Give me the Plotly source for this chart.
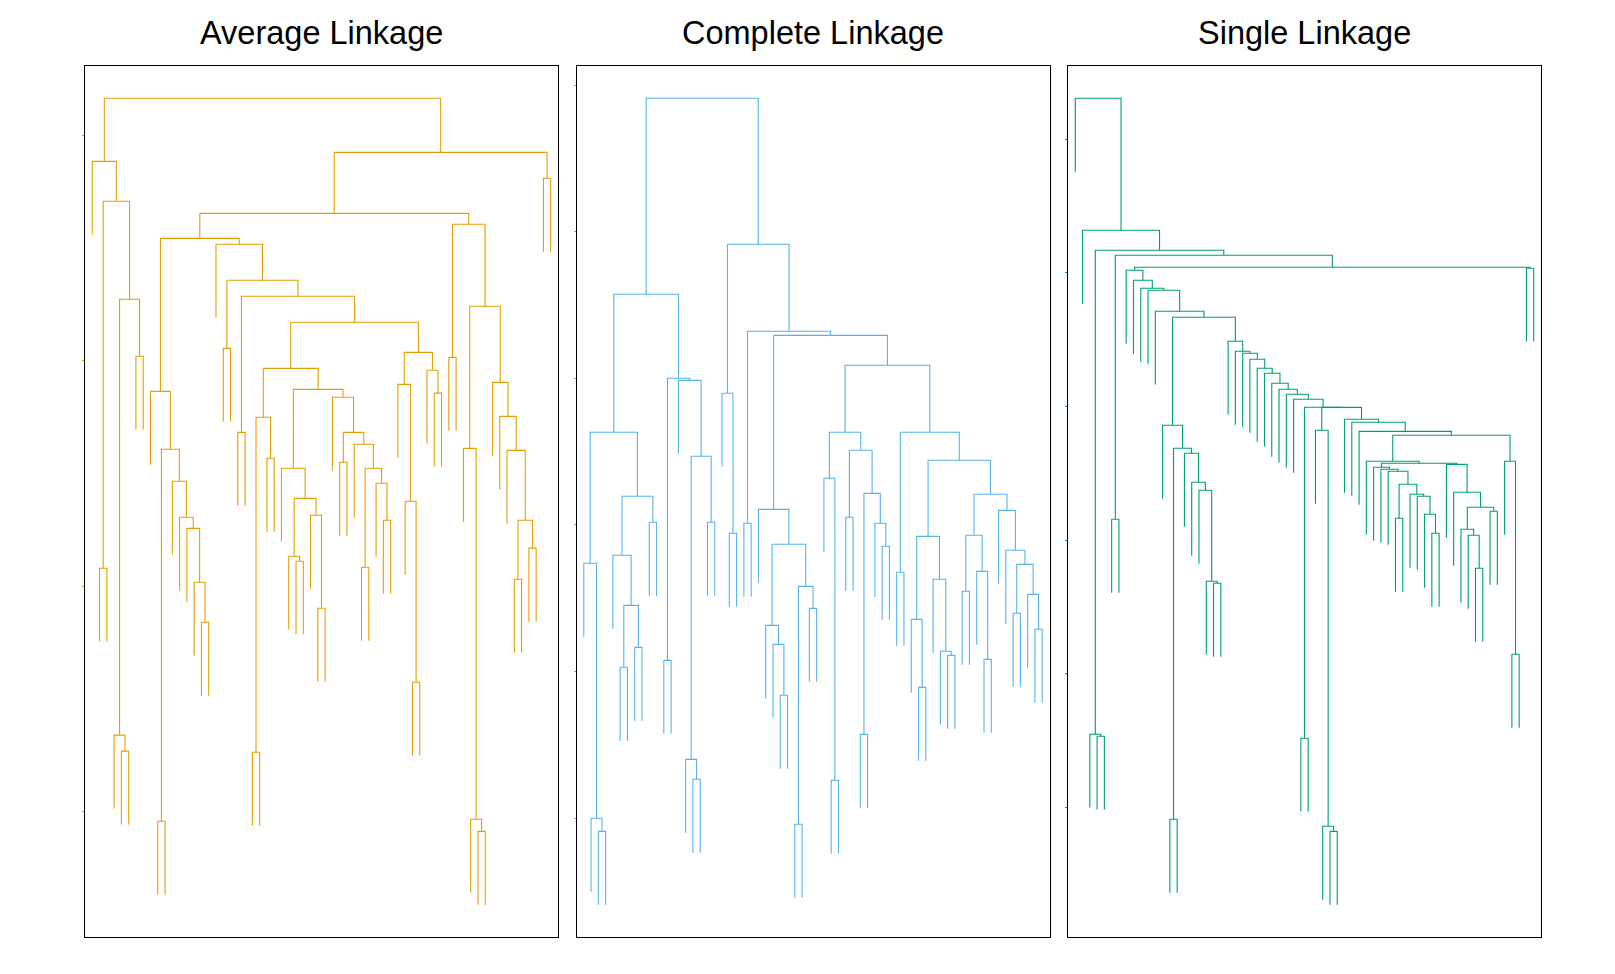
import plotly.graph_objects as go

# ---------------- data ----------------
n_leaves = 64
titles = ["Average Linkage", "Complete Linkage", "Single Linkage"]
colors = ["#E69F00", "#56B4E9", "#009E73"]

# merges: (node, left child, right child, merge height); ints are leaves
avg_merges = [
    ("R", "A", "B", 3.258), ("A", 1, "A2", 2.978), ("A2", "A3", "A4", 2.801),
    ("A3", 2, 3, 1.172), ("A4", "A5", "A6", 2.366), ("A5", 4, "A7", 0.431),
    ("A7", 5, 6, 0.360), ("A6", 7, 8, 2.113), ("B", "C", "D", 3.018),
    ("D", 63, 64, 2.903), ("C", "E", "F", 2.747), ("E", "G", "H", 2.636),
    ("G", 9, "G2", 1.957), ("G2", "G3", "G4", 1.700), ("G3", 10, 11, 0.049),
    ("G4", 12, "G5", 1.558), ("G5", 13, "G6", 1.398), ("G6", 14, "G7", 1.349),
    ("G7", 15, "G8", 1.110), ("G8", 16, 17, 0.932), ("H", 18, "H2", 2.610),
    ("H2", "H3", "H4", 2.450), ("H3", 19, 20, 2.148), ("H4", "H5", "H6", 2.379),
    ("H5", 21, 22, 1.775), ("H6", "I", "J", 2.264), ("I", "I1", "I2", 2.059),
    ("I1", "I3", "I4", 1.842), ("I3", 23, 24, 0.355), ("I4", 25, 26, 1.660),
    ("I2", "I5", "I6", 1.966), ("I5", 27, "I7", 1.616), ("I7", "I8", "I9", 1.482),
    ("I8", 28, "I10", 1.225), ("I10", 29, 30, 1.203), ("I9", 31, "I11", 1.407),
    ("I11", 32, 33, 0.994), ("I6", 34, "I12", 1.931), ("I12", "I13", "I14", 1.775),
    ("I13", 35, 36, 1.642), ("I14", 37, "I15", 1.722), ("I15", "I16", "I17", 1.616),
    ("I16", 38, 39, 1.176), ("I17", 40, "I18", 1.549), ("I18", 41, 42, 1.385),
    ("J", "J1", "J2", 2.130), ("J1", 43, "J3", 1.988), ("J3", 44, "J4", 1.469),
    ("J4", 45, 46, 0.666), ("J2", 47, "J5", 2.051), ("J5", 48, 49, 1.949),
    ("F", "F1", "F2", 2.699), ("F1", 50, 51, 2.108), ("F2", "F3", "F4", 2.335),
    ("F3", 52, "F5", 1.704), ("F5", 53, "F6", 0.058), ("F6", 54, 55, 0.004),
    ("F4", 56, "F7", 1.997), ("F7", 57, "F8", 1.846), ("F8", 58, "F9", 1.695),
    ("F9", "F10", "F11", 1.385), ("F10", 59, 60, 1.123), ("F11", 61, 62, 1.261),
]

com_merges = [
    ("R", "P", "Q", 5.007), ("P", "P1", "P2", 3.670), ("P1", "P3", "P4", 2.729),
    ("P3", 1, "P5", 1.835), ("P5", 2, "P6", 0.096), ("P6", 3, 4, 0.007),
    ("P4", "P7", "P8", 2.292), ("P7", 5, "P9", 1.890), ("P9", "P10", "P11", 1.548),
    ("P10", 6, 7, 1.126), ("P11", 8, 9, 1.262), ("P8", 10, 11, 2.115),
    ("P2", "P12", "P13", 3.097), ("P12", 12, 13, 1.173), ("P13", 14, "P14", 3.083),
    ("P14", "P15", "P16", 2.565), ("P15", 15, "P17", 0.498), ("P17", 16, 17, 0.362),
    ("P16", 18, 19, 2.115), ("Q", "Q1", "Q2", 4.011), ("Q1", 20, "Q3", 2.995),
    ("Q3", 21, 22, 2.040), ("Q2", "Q4", "Q5", 3.418), ("Q4", 23, 24, 2.108),
    ("Q5", "S", "T", 3.390), ("S", 25, "S1", 2.203), ("S1", "S2", "S3", 1.965),
    ("S2", 26, "S4", 1.412), ("S4", 27, "S5", 1.282), ("S5", 28, 29, 0.935),
    ("S3", "S6", "S7", 1.678), ("S6", 30, 31, 0.055), ("S7", 32, 33, 1.528),
    ("T", "U", "V", 3.186), ("U", "U1", "U2", 2.729), ("U1", 34, "U3", 2.415),
    ("U3", 35, 36, 0.355), ("U2", "U4", "U5", 2.606), ("U4", 37, 38, 2.149),
    ("U5", "U6", "U7", 2.312), ("U6", 39, 40, 0.668), ("U7", 41, "U8", 2.108),
    ("U8", 42, 43, 1.951), ("V", "V1", "V2", 2.729), ("V1", 44, 45, 1.774),
    ("V2", "V3", "V4", 2.538), ("V3", "V5", "V6", 2.019), ("V5", 46, "V7", 1.453),
    ("V7", 47, 48, 0.989), ("V6", 49, "V8", 1.726), ("V8", 50, "V9", 1.235),
    ("V9", 51, 52, 1.207), ("V4", "W1", "W2", 2.306), ("W1", "W3", "W4", 2.026),
    ("W3", 53, 54, 1.644), ("W4", 55, "W5", 1.780), ("W5", 56, 57, 1.180),
    ("W2", 58, "W6", 2.196), ("W6", 59, "W7", 1.924), ("W7", "W8", "W9", 1.828),
    ("W8", 60, 61, 1.494), ("W9", 62, "W10", 1.623), ("W10", 63, 64, 1.385),
]

sgl_merges = [
    ("R", 1, "X1", 5.494), ("X1", 2, "X2", 4.506), ("X2", "X3", "X4", 4.356),
    ("X3", 3, "X5", 0.734), ("X5", 4, 5, 0.719), ("X4", "X6", "X7", 4.319),
    ("X6", 6, 7, 2.343), ("X7", "Y", "Z", 4.229), ("Z", 63, 64, 4.222),
    ("Y", 8, "Y1", 4.207), ("Y1", 9, "Y2", 4.132), ("Y2", 10, "Y3", 4.072),
    ("Y3", 11, "Y4", 4.057), ("Y4", 12, "Y5", 3.900), ("Y5", "Y6", "Y7", 3.855),
    ("Y6", 13, "Y8", 3.046), ("Y8", "Y9", "Y10", 2.874), ("Y9", 14, 15, 0.097),
    ("Y10", 16, "Y11", 2.837), ("Y11", 17, "Y12", 2.620), ("Y12", 18, "Y13", 2.560),
    ("Y13", 19, "Y14", 1.879), ("Y14", 20, 21, 1.864), ("Y7", 22, "C1", 3.675),
    ("C1", 23, "C2", 3.600), ("C2", 24, "C3", 3.585), ("C3", 25, "C4", 3.540),
    ("C4", 26, "C5", 3.473), ("C5", 27, "C6", 3.436), ("C6", 28, "C7", 3.361),
    ("C7", 29, "C8", 3.316), ("C8", 30, "C9", 3.278), ("C9", 31, "N2", 3.241),
    ("N2", "M1", "N1", 3.181), ("M1", 32, 33, 0.704), ("N1", "M2", "M3", 3.180),
    ("M2", 34, "M4", 3.009), ("M4", 35, "M5", 0.045), ("M5", 36, 37, 0.007),
    ("M3", 38, "M6", 3.091), ("M6", 39, "M7", 3.069), ("M7", 40, "M8", 3.001),
    ("M8", "K", "E", 2.972), ("E", 60, "E1", 2.777), ("E1", 61, 62, 1.332),
    ("K", 41, "K1", 2.777), ("K1", "K2", "K3", 2.762), ("K2", 42, "K4", 2.732),
    ("K4", 43, "K5", 2.717), ("K5", 44, "K6", 2.702), ("K6", "K7", "K8", 2.605),
    ("K7", 45, 46, 2.350), ("K8", 47, "K9", 2.530), ("K9", 48, "K10", 2.515),
    ("K10", 49, "K11", 2.380), ("K11", 50, 51, 2.238), ("K3", 52, "K12", 2.754),
    ("K12", 53, "K13", 2.545), ("K13", "K14", "K15", 2.433), ("K14", 54, "K16", 2.268),
    ("K16", 55, "K17", 2.223), ("K17", 56, 57, 1.976), ("K15", 58, 59, 2.403),
]

avg_ticks = [0.093, 1.093, 2.093, 3.093]
com_ticks = [0.097, 1.097, 2.097, 3.097, 4.097, 5.097]
sgl_ticks = [0.187, 1.187, 2.187, 3.187, 4.187, 5.187]

# ---------------- build ----------------
def dendro_segments(merges):
    table = {m[0]: (m[1], m[2], m[3]) for m in merges}
    root = merges[0][0]
    hang = 0.1 * max(m[3] for m in merges)
    pos, order = {}, []

    def place(node):
        if isinstance(node, int):
            order.append(node)
            pos[node] = len(order)
        else:
            l, r, _ = table[node]
            pos[node] = (place(l) + place(r)) / 2.0
        return pos[node]

    place(root)

    def top(node, h):
        return h - hang if isinstance(node, int) else table[node][2]

    xs, ys = [], []
    for name, (l, r, h) in table.items():
        xs += [pos[l], pos[l], pos[r], pos[r], None]
        ys += [top(l, h), h, h, top(r, h), None]
    low = min(m[3] for m in merges) - hang
    high = max(m[3] for m in merges)
    return xs, ys, low, high


panels = [(avg_merges, avg_ticks), (com_merges, com_ticks), (sgl_merges, sgl_ticks)]

# page has an 8px body margin, so the figure is 16px smaller than the window
W, H = 1599, 958
ml, mr, mt, mb = 77, 66, 58, 29
pw = W - ml - mr
panel_px = 473.0
gap_px = 18.5
domains = []
for i in range(3):
    x0 = i * (panel_px + gap_px) / pw
    domains.append([x0, min(1.0, x0 + panel_px / pw)])

fig = go.Figure()
for i, ((merges, ticks), col, title) in enumerate(zip(panels, colors, titles)):
    xs, ys, low, high = dendro_segments(merges)
    sfx = "" if i == 0 else str(i + 1)
    fig.add_trace(go.Scatter(
        x=xs, y=ys, mode="lines",
        line=dict(color=col, width=1.1),
        hoverinfo="skip", showlegend=False,
        xaxis="x" + sfx, yaxis="y" + sfx,
    ))
    span = high - low
    fig.layout["xaxis" + sfx] = dict(
        domain=domains[i], range=[0, n_leaves + 1], anchor="y" + sfx,
        showgrid=False, zeroline=False, showticklabels=False, ticks="",
        showline=True, mirror=True, linecolor="black", linewidth=1,
    )
    fig.layout["yaxis" + sfx] = dict(
        domain=[0, 1], range=[low - 0.04 * span, high + 0.04 * span],
        anchor="x" + sfx, showgrid=False, zeroline=False,
        showticklabels=False, ticks="outside", ticklen=2, tickwidth=1,
        tickcolor=col, tickvals=ticks,
        showline=True, mirror=True, linecolor="black", linewidth=1,
    )
    fig.add_annotation(
        x=(domains[i][0] + domains[i][1]) / 2, y=1 + 33.0 / (H - mt - mb),
        xref="paper", yref="paper", text=title, showarrow=False,
        xanchor="center", yanchor="middle",
        font=dict(family="Liberation Sans, Arial, sans-serif", size=32.5, color="black"),
    )

fig.update_layout(
    width=W, height=H,
    margin=dict(l=ml, r=mr, t=mt, b=mb),
    paper_bgcolor="white", plot_bgcolor="white",
)

fig.write_html("out.html")
